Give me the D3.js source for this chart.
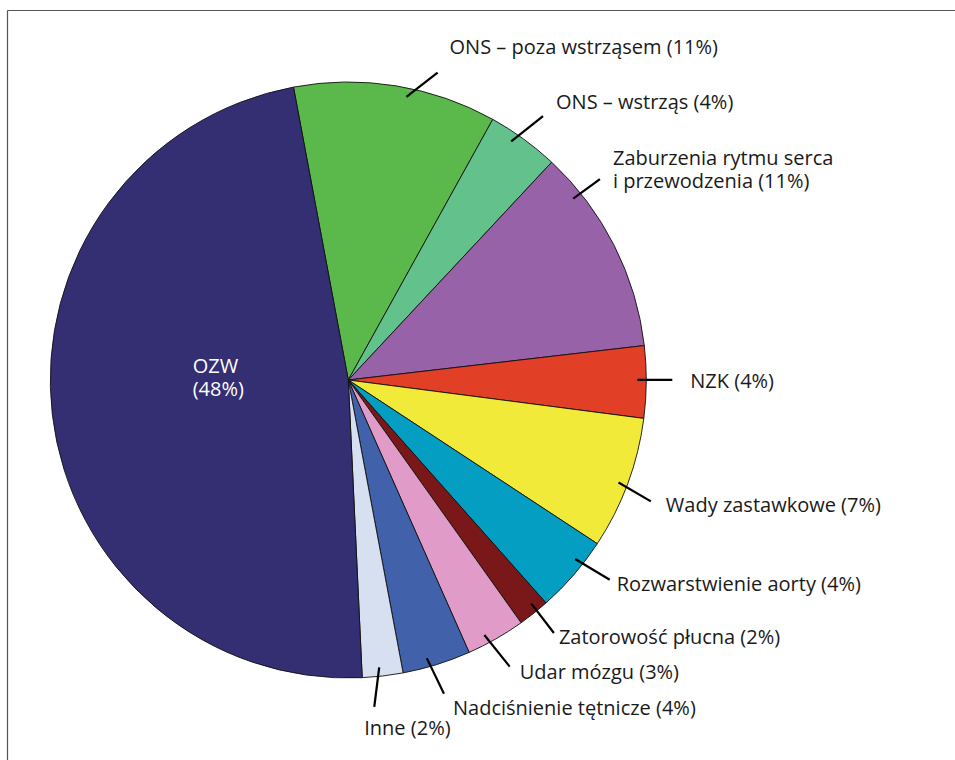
<!DOCTYPE html>
<html><head><meta charset="utf-8">
<script src="https://cdn.jsdelivr.net/npm/d3@7"></script>
<style>html,body{margin:0;padding:0;background:#fff;}svg{display:block;}</style>
</head><body>
<svg id="chart" width="955" height="760"></svg>
<script>
// ---- data ----
const categories = ["ONS – poza wstrząsem", "ONS – wstrząs", "Zaburzenia rytmu serca|i przewodzenia", "NZK", "Wady zastawkowe", "Rozwarstwienie aorty", "Zatorowość płucna", "Udar mózgu", "Nadciśnienie tętnicze", "Inne", "OZW"];
const shares = [11.0, 3.9, 11.2, 3.9, 7.2, 4.2, 1.7, 3.2, 3.7, 2.2, 47.8];
const percentLabels = ["11%", "4%", "11%", "4%", "7%", "4%", "2%", "3%", "4%", "2%", "48%"];
const colors = ["#5ab94a", "#63c18c", "#9862a8", "#e23f27", "#f2ea38", "#039ec2", "#7a1718", "#e09bc8", "#4162ab", "#d6e0f0", "#342e73"];

// ---- layout (annotation placement) ----
const leaderOffsetsDeg = [[2.4, 7.0], [-1.7, 0.4], [-12.1, -11.8], [-0.4, -0.4], [0.4, 1.5], [-2.6, -3.5], [-0.8, -0.6], [1.6, 0.3], [1.5, 0.3], [0.5, 2.1], null];
const leaderOuterExtra = [22, 30, 24, 26, 28, 31, 28, 31, 30, 30, null];
const labelOffsets = [[12, -19], [13, -7], [13, -14], [18, 8], [15, 11], [7, 11], [5, 11], [10, 12], [9, 21], [-10, 28], null];

const svg = d3.select("#chart");
const cx = 348.3, cy = 380, R = 298;
const toRad = d => d * Math.PI / 180;
const startDeg = -10.6;

// frame
svg.append("line").attr("x1", 7.5).attr("y1", 10.5).attr("x2", 955).attr("y2", 10.5).attr("stroke", "#555").attr("stroke-width", 1.2);
svg.append("line").attr("x1", 7.5).attr("y1", 10.5).attr("x2", 7.5).attr("y2", 760).attr("stroke", "#555").attr("stroke-width", 1.2);

const data = categories.map((c, i) => ({ name: c, value: shares[i], pct: percentLabels[i], color: colors[i], i }));
const pie = d3.pie().sort(null).value(d => d.value).startAngle(toRad(startDeg)).endAngle(toRad(startDeg) + 2 * Math.PI);
const arcs = pie(data);
const arc = d3.arc().innerRadius(0).outerRadius(R);

const g = svg.append("g").attr("transform", `translate(${cx},${cy})`);
g.selectAll("path").data(arcs).join("path")
  .attr("d", arc).attr("fill", d => d.data.color)
  .attr("stroke", "#111").attr("stroke-width", 0.9).attr("stroke-linejoin", "round");

const font = "'Open Sans', 'Noto Sans', sans-serif";
const fs = 20;
const polar = (deg, r) => [r * Math.sin(toRad(deg)), -r * Math.cos(toRad(deg))];

arcs.forEach(a => {
  const i = a.data.i;
  const mid = ((a.startAngle + a.endAngle) / 2) * 180 / Math.PI;
  if (leaderOffsetsDeg[i] === null) {
    // inside label (OZW)
    const t = g.append("text").attr("font-family", font).attr("font-size", fs).attr("fill", "#fff");
    t.append("tspan").attr("x", 192.7 - cx).attr("y", 372.7 - cy).text(a.data.name);
    t.append("tspan").attr("x", 192.7 - cx).attr("y", 396 - cy).text("(" + a.data.pct + ")");
    return;
  }
  const [o1, o2] = leaderOffsetsDeg[i];
  const p1 = polar(mid + o1, R - 9), p2 = polar(mid + o2, R + leaderOuterExtra[i]);
  g.append("line").attr("x1", p1[0]).attr("y1", p1[1]).attr("x2", p2[0]).attr("y2", p2[1])
    .attr("stroke", "#000").attr("stroke-width", 2.2);
  const [dx, dy] = labelOffsets[i];
  const lines = a.data.name.split("|");
  const t = g.append("text").attr("font-family", font).attr("font-size", fs).attr("fill", "#1a1a1a");
  lines.forEach((ln, k) => {
    const txt = k === lines.length - 1 ? ln + " (" + a.data.pct + ")" : ln;
    t.append("tspan").attr("x", p2[0] + dx).attr("y", p2[1] + dy + k * 22.7).text(txt);
  });
});
</script>
</body></html>
